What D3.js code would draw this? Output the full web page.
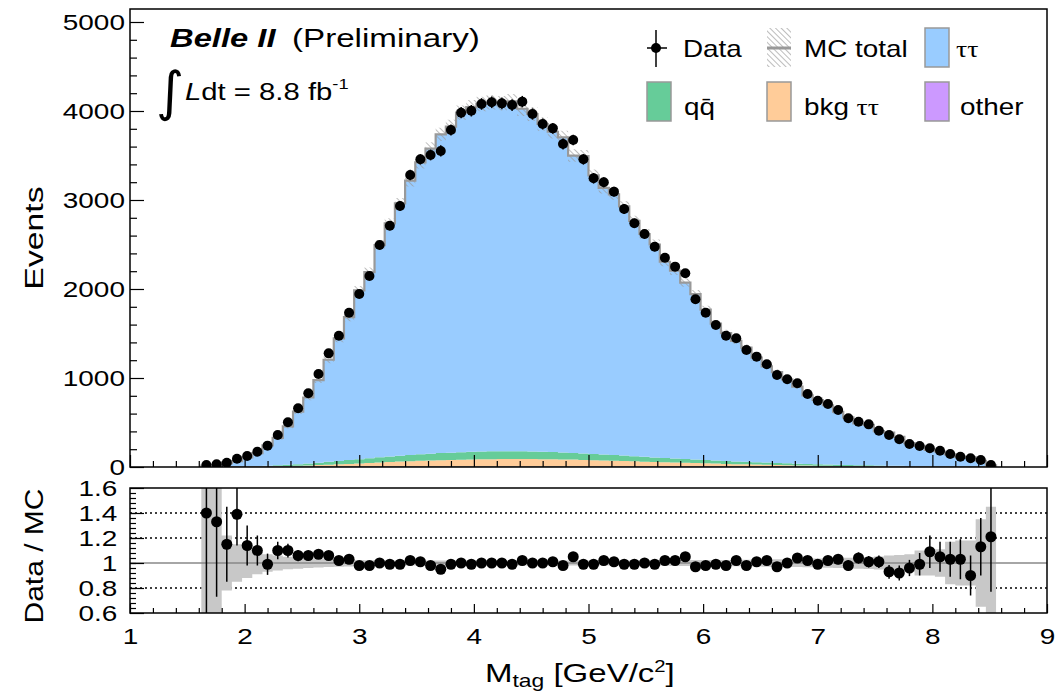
<!DOCTYPE html>
<html>
<head>
<meta charset="utf-8">
<script src="https://d3js.org/d3.v7.min.js"></script>
<style>
body { margin: 0; background: #fff; }
svg text { font-family: "Liberation Sans", Arial, Helvetica, sans-serif; fill: #000; }
</style>
</head>
<body>
<div id="chart"></div>
<script>

// histogram binning: 90 bins on [1, 9] GeV/c^2, filled bins start at bin 7
var nBins = 90, xLo = 1, xHi = 9, firstBin = 7;

// events per bin (data points)
var dataCounts = [22,30,48,93,124,172,240,360,502,660,
  828,1045,1277,1475,1734,1944,2146,2494,2711,2933,
  3281,3457,3506,3551,3787,3981,4003,4079,4098,4086,
  4067,4105,3966,3854,3805,3629,3674,3457,3244,3199,
  3094,2899,2738,2618,2475,2352,2251,2176,1884,1734,
  1596,1475,1446,1315,1240,1154,1034,985,940,820,
  745,708,640,547,509,479,408,360,311,258,
  236,210,183,146,116,98,79,22];

// MC components (stacked)
var tautau = [15,21,39,62,102,146,227,307,431,591,
  742,928,1147,1378,1605,1896,2091,2385,2620,2836,
  3082,3280,3428,3582,3664,3815,3873,3906,3922,3909,
  3931,3849,3792,3683,3599,3540,3341,3340,3131,2996,
  2929,2800,2645,2504,2392,2204,2112,1983,1858,1691,
  1539,1437,1355,1283,1174,1081,1021,944,867,770,
  722,666,595,535,468,455,387,372,325,258,
  228,185,167,137,108,106,67,16];
var qqbar = [1,1,2,3,4,6,8,11,14,18,
  22,27,32,38,43,48,53,58,62,66,
  70,74,77,80,82,84,86,87,88,88,
  87,86,85,83,81,78,75,72,69,66,
  63,60,57,54,51,48,45,42,40,37,
  35,33,31,29,27,25,23,21,19,18,
  16,15,14,12,11,10,9,8,7,6,
  5,5,4,3,3,2,2,1];
var bkgTauTau = [0,1,1,2,3,4,6,8,10,13,
  16,20,24,28,33,38,43,48,53,58,
  62,66,70,73,76,79,81,83,85,86,
  87,87,86,85,84,82,80,77,74,71,
  68,65,62,58,55,52,48,45,42,39,
  36,33,30,28,25,23,21,19,17,15,
  14,12,11,10,9,8,7,6,5,4,
  4,3,3,2,2,1,1,1];
var other = [0,0,0,0,0,0,1,1,1,1,
  1,2,2,2,2,2,3,3,3,3,
  3,3,3,3,3,3,3,3,3,3,
  3,3,3,3,3,3,3,3,3,3,
  3,3,2,2,2,2,2,2,2,2,
  2,2,2,2,2,2,1,1,1,1,
  1,1,1,1,1,1,1,1,1,1,
  1,0,0,0,0,0,0,0];

// relative MC uncertainty per bin
var mcRelErr = [1.0,0.8,0.22,0.15,0.12,0.09,0.07,0.06,0.05,0.045,
  0.04,0.035,0.032,0.03,0.027,0.025,0.023,0.022,0.021,0.02,
  0.02,0.02,0.02,0.02,0.02,0.02,0.02,0.02,0.02,0.02,
  0.02,0.02,0.02,0.02,0.02,0.02,0.02,0.02,0.02,0.02,
  0.02,0.02,0.021,0.021,0.022,0.022,0.023,0.023,0.024,0.024,
  0.025,0.025,0.026,0.027,0.028,0.029,0.03,0.031,0.032,0.034,
  0.036,0.038,0.04,0.042,0.045,0.048,0.052,0.06,0.065,0.07,
  0.10,0.10,0.11,0.17,0.18,0.18,0.35,0.45];

// Data / MC ratio and its error
var ratioVals = [1.40,1.33,1.15,1.39,1.14,1.10,0.99,1.10,1.10,1.06,
  1.06,1.07,1.06,1.02,1.03,0.98,0.98,1.00,0.99,0.99,
  1.02,1.01,0.98,0.95,0.99,1.00,0.99,1.00,1.00,1.00,
  0.99,1.02,1.00,1.00,1.01,0.98,1.05,0.99,0.99,1.02,
  1.01,0.99,0.99,1.00,0.99,1.02,1.02,1.05,0.97,0.98,
  0.99,0.98,1.02,0.98,1.01,1.02,0.97,1.00,1.04,1.02,
  0.99,1.02,1.03,0.98,1.04,1.01,1.01,0.93,0.92,0.96,
  0.99,1.09,1.05,1.03,1.03,0.90,1.13,1.21];
var ratioErr = [0.95,0.60,0.30,0.25,0.16,0.12,0.085,0.07,0.055,0.045,
  0.04,0.035,0.03,0.028,0.025,0.022,0.02,0.02,0.019,0.018,
  0.018,0.017,0.017,0.017,0.016,0.016,0.016,0.016,0.016,0.016,
  0.016,0.016,0.016,0.016,0.016,0.017,0.017,0.017,0.018,0.018,
  0.018,0.019,0.019,0.02,0.02,0.021,0.021,0.022,0.023,0.024,
  0.025,0.026,0.026,0.027,0.028,0.03,0.031,0.032,0.033,0.035,
  0.037,0.038,0.04,0.043,0.045,0.046,0.05,0.055,0.06,0.065,
  0.09,0.13,0.12,0.14,0.16,0.16,0.23,0.44];

var yTicksMain = [0, 1000, 2000, 3000, 4000, 5000];
var yTicksRatio = [0.6, 0.8, 1, 1.2, 1.4, 1.6];
var ratioGrid = [0.8, 1.2, 1.4];
var xTicks = [1, 2, 3, 4, 5, 6, 7, 8, 9];

// layout
var left = 130, right = 1047;
var mainTop = 9, mainBot = 467;
var ratTop = 488, ratBot = 613;

var x = d3.scaleLinear().domain([xLo, xHi]).range([left, right]);
var y = d3.scaleLinear().domain([0, 5146]).range([mainBot, mainTop]);
var yr = d3.scaleLinear().domain([0.6, 1.6]).range([ratBot, ratTop]);

var bw = (xHi - xLo) / nBins;
var bins = dataCounts.map(function(d, i) {
  var lo = xLo + (firstBin + i) * bw;
  return {
    lo: lo, hi: lo + bw, mid: lo + bw / 2,
    data: d, ratio: ratioVals[i], rerr: ratioErr[i],
    tt: tautau[i], qq: qqbar[i], bkg: bkgTauTau[i], other: other[i],
    mc: tautau[i] + qqbar[i] + bkgTauTau[i] + other[i],
    mcErr: mcRelErr[i]
  };
});
var lastBin = bins[bins.length - 1];

var svg = d3.select("#chart").append("svg")
  .attr("width", 1060).attr("height", 695);

var defs = svg.append("defs");
defs.append("pattern").attr("id", "hatch")
  .attr("patternUnits", "userSpaceOnUse")
  .attr("width", 4).attr("height", 4)
  .attr("patternTransform", "rotate(-45)")
  .append("line").attr("x1", 0).attr("y1", 0).attr("x2", 0).attr("y2", 4)
  .attr("stroke", "#999").attr("stroke-width", 1.3);
defs.append("clipPath").attr("id", "clipMain").append("rect")
  .attr("x", left).attr("y", mainTop).attr("width", right - left).attr("height", mainBot - mainTop);
defs.append("clipPath").attr("id", "clipRatio").append("rect")
  .attr("x", left).attr("y", ratTop).attr("width", right - left).attr("height", ratBot - ratTop);

function addText(parent, px, py, sx, size, str) {
  return parent.append("text")
    .attr("transform", "translate(" + px + "," + py + ") scale(" + sx + ",1)")
    .attr("font-size", size)
    .text(str);
}

// ---------- main panel ----------
var gMain = svg.append("g").attr("clip-path", "url(#clipMain)");

var keys = ["other", "bkg", "qq", "tt"];
var colors = { other: "#cc99ff", bkg: "#ffcc99", qq: "#66cc99", tt: "#99ccff" };
var stacked = d3.stack().keys(keys)(bins);

var stepArea = d3.area().curve(d3.curveStepAfter)
  .x(function(d) { return x(d.x); })
  .y0(function(d) { return y(d.y0); })
  .y1(function(d) { return y(d.y1); });

stacked.forEach(function(layer) {
  var pts = layer.map(function(s, i) { return { x: bins[i].lo, y0: s[0], y1: s[1] }; });
  var l = layer[layer.length - 1];
  pts.push({ x: lastBin.hi, y0: l[0], y1: l[1] });
  gMain.append("path").attr("d", stepArea(pts)).attr("fill", colors[layer.key]);
});

// MC uncertainty (hatched)
var bandPts = bins.map(function(b) {
  return { x: b.lo, y0: Math.max(0, b.mc * (1 - b.mcErr)), y1: b.mc * (1 + b.mcErr) };
});
bandPts.push({ x: lastBin.hi, y0: bandPts[bandPts.length - 1].y0, y1: bandPts[bandPts.length - 1].y1 });
gMain.append("path").attr("d", stepArea(bandPts)).attr("fill", "url(#hatch)");

// MC total line
var mcPts = [{ x: bins[0].lo, v: 0 }]
  .concat(bins.map(function(b) { return { x: b.lo, v: b.mc }; }))
  .concat([{ x: lastBin.hi, v: lastBin.mc }, { x: lastBin.hi, v: 0 }, { x: bins[0].lo, v: 0 }]);
gMain.append("path")
  .attr("d", d3.line().curve(d3.curveStepAfter)
    .x(function(d) { return x(d.x); })
    .y(function(d) { return y(d.v); })(mcPts))
  .attr("fill", "none").attr("stroke", "#999").attr("stroke-width", 2.2);

// data points
gMain.selectAll(".derr").data(bins).enter().append("line")
  .attr("x1", function(d) { return x(d.mid); }).attr("x2", function(d) { return x(d.mid); })
  .attr("y1", function(d) { return y(d.data - d.rerr * d.mc); })
  .attr("y2", function(d) { return y(d.data + d.rerr * d.mc); })
  .attr("stroke", "#000").attr("stroke-width", 1.5);
gMain.selectAll(".dpt").data(bins).enter().append("circle")
  .attr("cx", function(d) { return x(d.mid); })
  .attr("cy", function(d) { return y(d.data); })
  .attr("r", 5).attr("fill", "#000");

// main axes
function styleAxis(g, sx, size) {
  g.attr("font-family", null).attr("font-size", null);
  g.select(".domain").remove();
  g.selectAll("line").attr("stroke-width", 1.2);
  g.selectAll("text").attr("font-size", size).attr("transform", "scale(" + sx + ",1)");
}

var gy = svg.append("g").attr("transform", "translate(" + left + ",0)")
  .call(d3.axisLeft(y).tickValues(yTicksMain).tickSize(-14).tickPadding(4).tickFormat(d3.format("d")));
styleAxis(gy, 1.27, 22);
var gyMin = svg.append("g").attr("transform", "translate(" + left + ",0)")
  .call(d3.axisLeft(y).tickValues(d3.range(0, 5146, 200).filter(function(v) { return v % 1000 !== 0; }))
    .tickSize(-7).tickFormat(""));
styleAxis(gyMin, 1, 10);

var gxm = svg.append("g").attr("transform", "translate(0," + mainBot + ")")
  .call(d3.axisBottom(x).tickValues(xTicks).tickSize(-12).tickFormat(""));
styleAxis(gxm, 1, 10);
var gxmMin = svg.append("g").attr("transform", "translate(0," + mainBot + ")")
  .call(d3.axisBottom(x).tickValues(d3.range(1.2, 9, 0.2).filter(function(v) { return Math.abs(v - Math.round(v)) > 0.01; }))
    .tickSize(-6).tickFormat(""));
styleAxis(gxmMin, 1, 10);

svg.append("rect").attr("x", left).attr("y", mainTop)
  .attr("width", right - left).attr("height", mainBot - mainTop)
  .attr("fill", "none").attr("stroke", "#000").attr("stroke-width", 1.5);

// ---------- ratio panel ----------
var gRat = svg.append("g").attr("clip-path", "url(#clipRatio)");

gRat.selectAll(".grid").data(ratioGrid).enter().append("line")
  .attr("x1", left).attr("x2", right)
  .attr("y1", function(d) { return yr(d); }).attr("y2", function(d) { return yr(d); })
  .attr("stroke", "#000").attr("stroke-width", 1.3).attr("stroke-dasharray", "2,3");

var rBand = bins.map(function(b) { return { x: b.lo, y0: 1 - b.mcErr, y1: 1 + b.mcErr }; });
rBand.push({ x: lastBin.hi, y0: rBand[rBand.length - 1].y0, y1: rBand[rBand.length - 1].y1 });
gRat.append("path")
  .attr("d", d3.area().curve(d3.curveStepAfter)
    .x(function(d) { return x(d.x); })
    .y0(function(d) { return yr(d.y0); })
    .y1(function(d) { return yr(d.y1); })(rBand))
  .attr("fill", "#c8c8c8");

gRat.append("line").attr("x1", left).attr("x2", right)
  .attr("y1", yr(1)).attr("y2", yr(1))
  .attr("stroke", "#888").attr("stroke-width", 1.5);

gRat.selectAll(".rerr").data(bins).enter().append("line")
  .attr("x1", function(d) { return x(d.mid); }).attr("x2", function(d) { return x(d.mid); })
  .attr("y1", function(d) { return yr(d.ratio - d.rerr); })
  .attr("y2", function(d) { return yr(d.ratio + d.rerr); })
  .attr("stroke", "#000").attr("stroke-width", 1.5);
gRat.selectAll(".rpt").data(bins).enter().append("circle")
  .attr("cx", function(d) { return x(d.mid); })
  .attr("cy", function(d) { return yr(d.ratio); })
  .attr("r", 5.5).attr("fill", "#000");

var gyr = svg.append("g").attr("transform", "translate(" + left + ",0)")
  .call(d3.axisLeft(yr).tickValues(yTicksRatio).tickSize(-14).tickPadding(10)
    .tickFormat(function(d) { return d === 1 ? "1" : d3.format(".1f")(d); }));
styleAxis(gyr, 1.27, 22);
var gyrMin = svg.append("g").attr("transform", "translate(" + left + ",0)")
  .call(d3.axisLeft(yr).tickValues(d3.range(0.64, 1.6, 0.04)).tickSize(-6).tickFormat(""));
styleAxis(gyrMin, 1, 10);

var gxr = svg.append("g").attr("transform", "translate(0," + ratBot + ")")
  .call(d3.axisBottom(x).tickValues(xTicks).tickSize(-9).tickPadding(15).tickFormat(d3.format("d")));
styleAxis(gxr, 1.27, 22);
var gxrMin = svg.append("g").attr("transform", "translate(0," + ratBot + ")")
  .call(d3.axisBottom(x).tickValues(d3.range(1.2, 9, 0.2).filter(function(v) { return Math.abs(v - Math.round(v)) > 0.01; }))
    .tickSize(-5).tickFormat(""));
styleAxis(gxrMin, 1, 10);

svg.append("rect").attr("x", left).attr("y", ratTop)
  .attr("width", right - left).attr("height", ratBot - ratTop)
  .attr("fill", "none").attr("stroke", "#000").attr("stroke-width", 1.5);

// ---------- labels ----------
addText(svg, 170, 47, 1.26, 26, "Belle II")
  .attr("font-weight", "bold").attr("font-style", "italic");
addText(svg, 292, 47, 1.3, 25.5, "(Preliminary)");

svg.append("text").attr("x", 156).attr("y", 110)
  .attr("font-size", 54).style("font-family", "'DejaVu Sans', sans-serif").text("\u222B");
var lum = addText(svg, 185, 100, 1.22, 24, "");
lum.append("tspan").attr("font-style", "italic").text("L");
lum.append("tspan").text("dt = 8.8 fb");
lum.append("tspan").attr("font-size", 15).attr("dy", -11).text("-1");

svg.append("text")
  .attr("transform", "translate(43,238) rotate(-90) scale(1.3,1)")
  .attr("font-size", 26).attr("text-anchor", "middle").text("Events");
svg.append("text")
  .attr("transform", "translate(43,556) rotate(-90) scale(1.2,1)")
  .attr("font-size", 25).attr("text-anchor", "middle").text("Data / MC");

var xTitle = addText(svg, 485, 682, 1.27, 26, "");
xTitle.append("tspan").text("M");
xTitle.append("tspan").attr("font-size", 18).attr("dy", 5).text("tag");
xTitle.append("tspan").attr("dy", -5).text(" [GeV/c");
xTitle.append("tspan").attr("font-size", 16).attr("dy", -10).text("2");
xTitle.append("tspan").attr("dy", 10).text("]");

// ---------- legend ----------
var leg = svg.append("g");
var colX = [647, 767, 925], rowY = [28, 82], boxW = 24, boxH = 39, textBase = [57, 115];

// Data entry
leg.append("line").attr("x1", colX[0] + 9).attr("x2", colX[0] + 9).attr("y1", rowY[0] + 2).attr("y2", rowY[0] + boxH)
  .attr("stroke", "#000").attr("stroke-width", 1.5);
leg.append("line").attr("x1", colX[0]).attr("x2", colX[0] + 20).attr("y1", rowY[0] + 20).attr("y2", rowY[0] + 20)
  .attr("stroke", "#000").attr("stroke-width", 1.5);
leg.append("circle").attr("cx", colX[0] + 9).attr("cy", rowY[0] + 20).attr("r", 5).attr("fill", "#000");
addText(leg, colX[0] + 36, textBase[0], 1.16, 24, "Data");

// MC total entry
leg.append("rect").attr("x", colX[1]).attr("y", rowY[0]).attr("width", boxW).attr("height", boxH)
  .attr("fill", "url(#hatch)");
leg.append("line").attr("x1", colX[1]).attr("x2", colX[1] + boxW).attr("y1", rowY[0] + 20).attr("y2", rowY[0] + 20)
  .attr("stroke", "#999").attr("stroke-width", 3);
addText(leg, colX[1] + 37, textBase[0], 1.16, 24, "MC total");

var boxEntries = [
  { col: 2, row: 0, key: "tt" },
  { col: 0, row: 1, key: "qq" },
  { col: 1, row: 1, key: "bkg" },
  { col: 2, row: 1, key: "other" }
];
boxEntries.forEach(function(e) {
  leg.append("rect").attr("x", colX[e.col]).attr("y", rowY[e.row])
    .attr("width", boxW).attr("height", boxH)
    .attr("fill", colors[e.key]).attr("stroke", "#999").attr("stroke-width", 1.5);
});
addText(leg, colX[2] + 31, textBase[0], 1.16, 24, "\u03C4\u03C4").style("font-family", "'Liberation Serif', serif");
addText(leg, colX[0] + 37, textBase[1], 1.16, 24, "q\u0071\u0304");
var bk = addText(leg, colX[1] + 37, textBase[1], 1.16, 24, "");
bk.append("tspan").text("bkg ");
bk.append("tspan").style("font-family", "'Liberation Serif', serif").text("\u03C4\u03C4");
addText(leg, colX[2] + 35, textBase[1], 1.16, 24, "other");

</script>
</body>
</html>
